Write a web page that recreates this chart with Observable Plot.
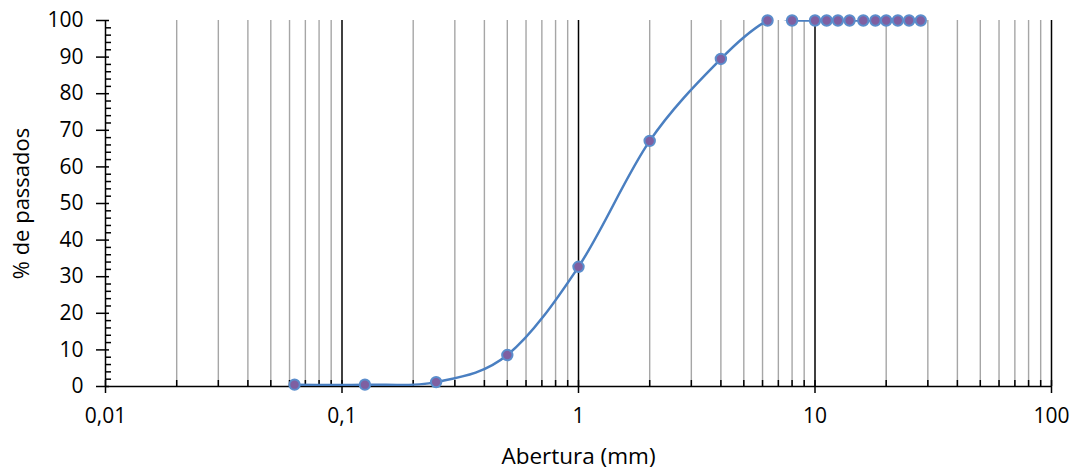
<!DOCTYPE html>
<html>
<head>
<meta charset="utf-8">
<script src="https://cdn.jsdelivr.net/npm/d3@7"></script>
<script src="https://cdn.jsdelivr.net/npm/@observablehq/plot@0.6"></script>
<style>
  html, body { margin: 0; padding: 0; background: #fff; }
  #chart { width: 1075px; height: 470px; }
</style>
</head>
<body>
<div id="chart"></div>
<script>
// Data
const aberturas = [0.063, 0.125, 0.25, 0.5, 1, 2, 4, 6.3, 8, 10, 11.2, 12.5, 14, 16, 18, 20, 22.4, 25, 28];
const passados  = [0.5, 0.5, 1.2, 8.6, 32.7, 67.1, 89.5, 100, 100, 100, 100, 100, 100, 100, 100, 100, 100, 100, 100];
const xTicks = [0.01, 0.1, 1, 10, 100];
const xMinor = [0.02,0.03,0.04,0.05,0.06,0.07,0.08,0.09, 0.2,0.3,0.4,0.5,0.6,0.7,0.8,0.9, 2,3,4,5,6,7,8,9, 20,30,40,50,60,70,80,90];
const yTicks = [0,10,20,30,40,50,60,70,80,90,100];
const yMinor = [2,4,6,8,12,14,16,18,22,24,26,28,32,34,36,38,42,44,46,48,52,54,56,58,62,64,66,68,72,74,76,78,82,84,86,88,92,94,96,98];
const xLabel = "Abertura (mm)";
const yLabel = "% de passados";

const data = aberturas.map((a, i) => ({abertura: a, passado: passados[i]}));

const W = 1075, H = 470;
const mL = 105, mR = 24, mT = 20, mB = 84;
const pw = W - mL - mR, ph = H - mT - mB;
const font = "'Open Sans', sans-serif";
const fmt = d => String(d).replace(".", ",");

const chart = Plot.plot({
  width: W, height: H,
  marginLeft: mL, marginRight: mR, marginTop: mT, marginBottom: mB,
  style: {fontFamily: font, fontSize: "21px", color: "#000", background: "#fff"},
  x: {type: "log", domain: [0.01, 100]},
  y: {domain: [0, 100]},
  marks: [
    // gridlines
    Plot.ruleX(xMinor, {x: d => d, stroke: "#a6a6a6", strokeWidth: 1.4}),
    Plot.ruleX(xTicks.slice(1), {x: d => d, stroke: "#000", strokeWidth: 1.5}),
    // axis lines
    Plot.ruleY([0], {stroke: "#000", strokeWidth: 1.5}),
    Plot.ruleX([0.01], {stroke: "#000", strokeWidth: 1.5}),
    // inward tick parts
    Plot.tickX(xMinor, {x: d => d, insetTop: ph - 6, stroke: "#000", strokeWidth: 1.5}),
    Plot.tickX(xTicks, {x: d => d, insetTop: ph - 6, stroke: "#000", strokeWidth: 1.5}),
    Plot.tickY(yMinor, {y: d => d, insetRight: pw - 6, stroke: "#000", strokeWidth: 1.5}),
    Plot.tickY(yTicks, {y: d => d, insetRight: pw - 4, stroke: "#000", strokeWidth: 1.5}),
    // axes
    Plot.axisX({ticks: xTicks, tickFormat: fmt, tickSize: 7, tickPadding: 15, strokeWidth: 1.5, label: null, fontSize: 21}),
    Plot.axisY({ticks: yTicks, tickSize: 9, tickPadding: 13, strokeWidth: 1.5, label: null, fontSize: 21}),
    // axis titles
    Plot.text([xLabel], {frameAnchor: "bottom", textAnchor: "middle", lineAnchor: "middle", dy: 70, fontSize: 22.5, fill: "#000"}),
    Plot.text([yLabel], {frameAnchor: "left", textAnchor: "middle", lineAnchor: "middle", dx: -84, rotate: -90, fontSize: 22, fill: "#000"}),
    // curve
    Plot.line(data, {x: "abertura", y: "passado", curve: "cardinal", stroke: "#4a7fc1", strokeWidth: 2.5, clip: true}),
    Plot.dot(data, {x: "abertura", y: "passado", r: 5.2, fill: "#7f5fa1", stroke: "#5b8dcc", strokeWidth: 2})
  ]
});
document.getElementById("chart").appendChild(chart);
</script>
</body>
</html>
